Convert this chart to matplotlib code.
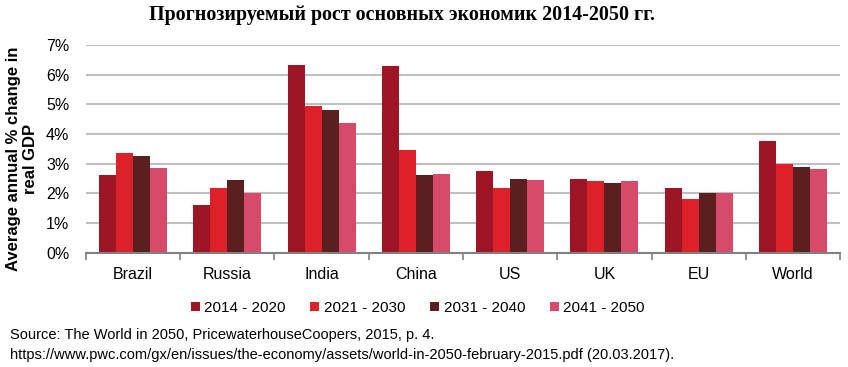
import matplotlib
matplotlib.use("Agg")
import matplotlib.pyplot as plt
import numpy as np
from matplotlib.ticker import FuncFormatter

categories = ["Brazil", "Russia", "India", "China", "US", "UK", "EU", "World"]
series_names = ["2014 - 2020", "2021 - 2030", "2031 - 2040", "2041 - 2050"]
s2014 = [2.63, 1.62, 6.34, 6.29, 2.76, 2.48, 2.19, 3.75]
s2021 = [3.35, 2.19, 4.93, 3.47, 2.18, 2.42, 1.81, 2.98]
s2031 = [3.26, 2.46, 4.80, 2.63, 2.47, 2.36, 2.00, 2.88]
s2041 = [2.85, 2.01, 4.37, 2.66, 2.45, 2.41, 2.00, 2.81]
colors = ["#9E1626", "#DC2128", "#5C1F20", "#D84A6A"]

fig = plt.figure(figsize=(8.48, 3.67), dpi=100)
ax = fig.add_axes([0.1014, 0.3114, 0.8892, 0.566])

x = np.arange(len(categories))
w = 0.18
for i, (vals, name, c) in enumerate(zip([s2014, s2021, s2031, s2041], series_names, colors)):
    ax.bar(x + (i - 1.5) * w, vals, width=w, color=c, label=name, zorder=3)

ax.set_xlim(-0.5, len(categories) - 0.5)
ax.set_ylim(0, 7)
ax.set_yticks(range(0, 8))
ax.yaxis.set_major_formatter(FuncFormatter(lambda v, p: f"{int(v)}%"))
ax.grid(axis="y", color="#BFBFBF", linewidth=1.5, zorder=0)
for s in ["top", "right", "left"]:
    ax.spines[s].set_visible(False)
ax.spines["bottom"].set_color("#808080")
ax.spines["bottom"].set_linewidth(1.5)
ax.spines["bottom"].set_zorder(4)
ax.tick_params(axis="y", length=0, labelsize=11.5, pad=12)
ax.set_xticks(x)
ax.set_xticklabels(categories, fontsize=11.5)
ax.tick_params(axis="x", length=0, pad=10)
ax.set_xticks(np.arange(-0.5, len(categories)), minor=True)
ax.tick_params(axis="x", which="minor", length=5, color="#808080", width=1.2)
for lbl in ax.get_xticklabels() + ax.get_yticklabels():
    lbl.set_family("Liberation Sans")

ax.set_ylabel("Average annual % change in\nreal GDP", fontsize=12, fontweight="bold",
              family="Liberation Sans", linespacing=1.15)
ax.yaxis.set_label_coords(-0.064, 0.45)

fig.text(0.474, 0.958, "Прогнозируемый рост основных экономик 2014-2050 гг.",
         ha="center", va="center", fontsize=14.4, fontweight="bold", family="Liberation Serif")

ax.legend(loc="center", bbox_to_anchor=(0.44, -0.265), ncol=4, frameon=False,
          prop={"family": "Liberation Sans", "size": 11},
          handlelength=0.6, handleheight=0.6, handletextpad=0.3, columnspacing=1.6)

fig.text(0.012, 0.087, "Source: The World in 2050, PricewaterhouseCoopers, 2015, p. 4.",
         ha="left", va="center", fontsize=10.5, family="Liberation Sans")
fig.text(0.012, 0.033, "https://www.pwc.com/gx/en/issues/the-economy/assets/world-in-2050-february-2015.pdf (20.03.2017).",
         ha="left", va="center", fontsize=10.5, family="Liberation Sans")

fig.savefig("out.png", dpi=100)
